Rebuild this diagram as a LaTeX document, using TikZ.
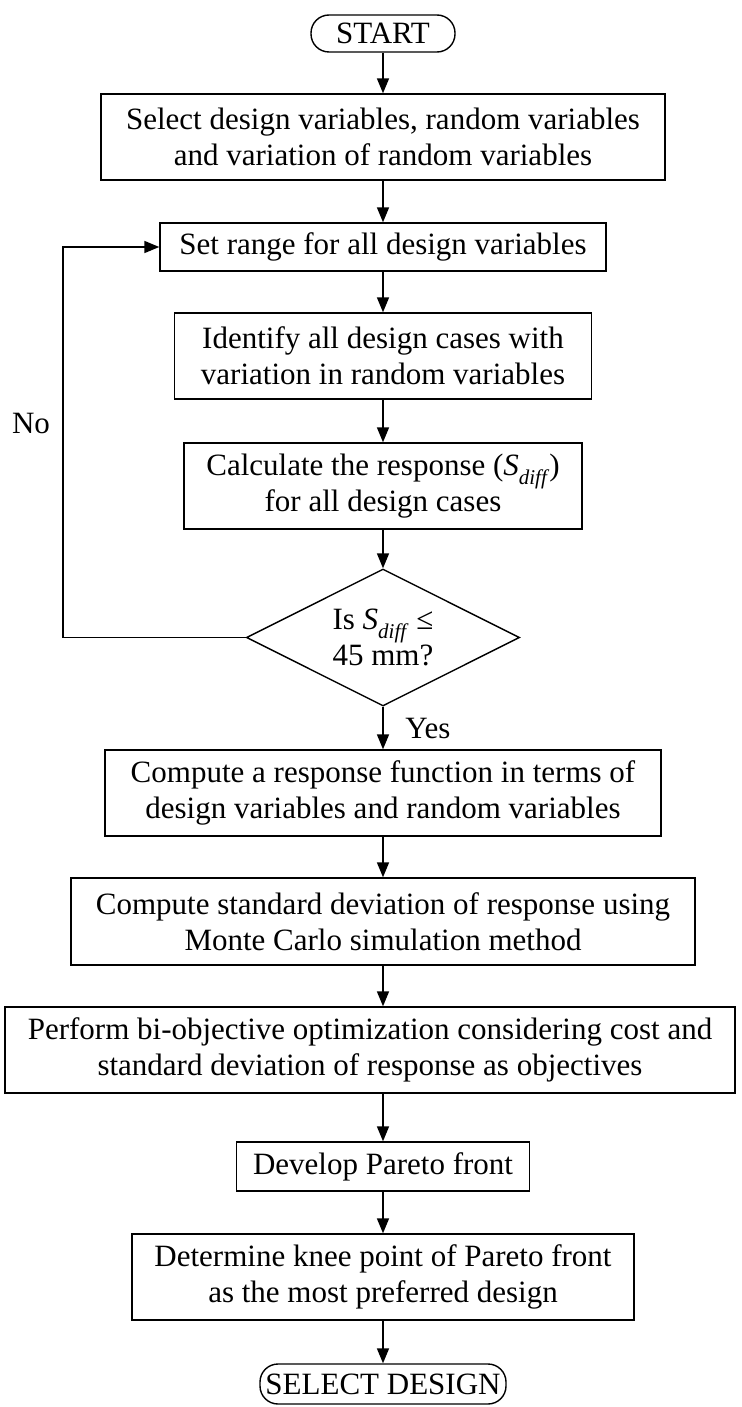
\documentclass[tikz,border=0pt]{standalone}
\usepackage{fontspec}
\setmainfont{Liberation Serif}
\usetikzlibrary{shapes.geometric,arrows.meta}
\newcommand{\Sdiff}{\textit{S}\raisebox{-0.28em}{\fontsize{21}{21}\selectfont\textit{diff}}}
\begin{document}
\begin{tikzpicture}[x=1pt,y=-1pt,
  box/.style={draw, line width=1.4pt, align=center, inner sep=0pt, font=\fontsize{31}{36}\selectfont},
  term/.style={box, rounded corners=18pt},
  arr/.style={line width=1.7pt, -{Triangle[length=15pt,width=12pt]}},
  lbl/.style={font=\fontsize{31}{36}\selectfont, inner sep=0pt}]
\useasboundingbox (0,0) rectangle (741,1407);

\node[term, minimum width=144pt, minimum height=37pt] (start) at (383,33.5) {START};
\node[box, minimum width=564pt, minimum height=86pt] (b1) at (383,137) {Select design variables, random variables\\and variation of random variables};
\node[box, minimum width=446pt, minimum height=48pt] (b2) at (383,247) {Set range for all design variables};
\node[box, minimum width=417pt, minimum height=86pt] (b3) at (383,356) {Identify all design cases with\\variation in random variables};
\node[box, minimum width=398pt, minimum height=86pt] (b4) at (383,486) {Calculate the response (\Sdiff)\\for all design cases};
\node[box, diamond, aspect=2, minimum width=273pt, minimum height=137pt] (dec) at (383,637.5) {Is \Sdiff\ ≤\\45 mm?};
\node[box, minimum width=556pt, minimum height=86pt] (b5) at (383,793) {Compute a response function in terms of\\design variables and random variables};
\node[box, minimum width=624pt, minimum height=87pt] (b6) at (383,921.5) {Compute standard deviation of response using\\Monte Carlo simulation method};
\node[box, minimum width=730pt, minimum height=86pt] (b7) at (370,1050) {Perform bi-objective optimization considering cost and\\standard deviation of response as objectives};
\node[box, minimum width=293pt, minimum height=49pt] (b8) at (383,1166.5) {Develop Pareto front};
\node[box, minimum width=502pt, minimum height=86pt] (b9) at (383,1277) {Determine knee point of Pareto front\\as the most preferred design};
\node[term, minimum width=246pt, minimum height=40pt] (end) at (383,1384) {SELECT DESIGN};

\node[lbl] (no) at (31,423) {No};
\node[lbl] (yes) at (428,728) {Yes};

\coordinate (lb) at (63,637.5);
\coordinate (lt) at (63,247);

\draw[arr] (start.south) -- (b1.north);
\draw[arr] (b1.south) -- (b2.north);
\draw[arr] (b2.south) -- (b3.north);
\draw[arr] (b3.south) -- (b4.north);
\draw[arr] (b4.south) -- (dec.north);
\draw[arr] (dec.south) -- (b5.north);
\draw[arr] (b5.south) -- (b6.north);
\draw[arr] (b6.south) -- (b6.south |- b7.north);
\draw[arr] (b6.south |- b7.south) -- (b8.north);
\draw[arr] (b8.south) -- (b9.north);
\draw[arr] (b9.south) -- (end.north);
\draw[arr] (dec.west) -- (lb) -- (lt) -- (b2.west);
\end{tikzpicture}
\end{document}
